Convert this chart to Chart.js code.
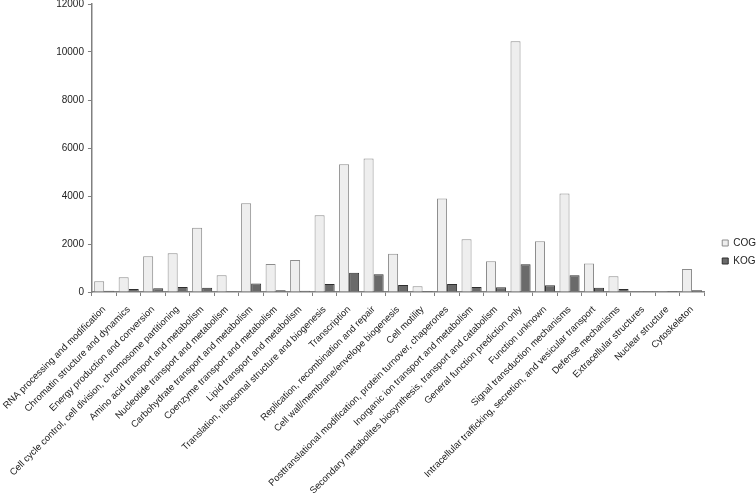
<!DOCTYPE html>
<html>
<head>
<meta charset="utf-8">
<script src="https://cdn.jsdelivr.net/npm/chart.js@4/dist/chart.umd.min.js"></script>
<style>
html,body{margin:0;padding:0;background:#fff;overflow:hidden;}
#wrap{width:756px;height:493px;position:relative;overflow:hidden;}
</style>
</head>
<body>
<div id="wrap"><canvas id="c" width="756" height="493"></canvas></div>
<script>
const categories = [
  "RNA processing and modification",
  "Chromatin structure and dynamics",
  "Energy production and conversion",
  "Cell cycle control, cell division, chromosome partitioning",
  "Amino acid transport and metabolism",
  "Nucleotide transport and metabolism",
  "Carbohydrate transport and metabolism",
  "Coenzyme transport and metabolism",
  "Lipid transport and metabolism",
  "Translation, ribosomal structure and biogenesis",
  "Transcription",
  "Replication, recombination and repair",
  "Cell wall/membrane/envelope biogenesis",
  "Cell motility",
  "Posttranslational modification, protein turnover, chaperones",
  "Inorganic ion transport and metabolism",
  "Secondary metabolites biosynthesis, transport and catabolism",
  "General function prediction only",
  "Function unknown",
  "Signal transduction mechanisms",
  "Intracellular trafficking, secretion, and vesicular transport",
  "Defense mechanisms",
  "Extracellular structures",
  "Nuclear structure",
  "Cytoskeleton"
];
const cogValues = [450, 610, 1490, 1610, 2680, 700, 3700, 1170, 1330, 3200, 5320, 5560, 1590, 240, 3900, 2200, 1280, 10450, 2110, 4100, 1190, 660, 15, 8, 960];
const kogValues = [50, 130, 155, 210, 180, 30, 350, 70, 55, 330, 800, 735, 290, 40, 330, 210, 195, 1160, 280, 695, 180, 125, 6, 4, 70];
const yTicks = [0, 2000, 4000, 6000, 8000, 10000, 12000];

const FONT = "'Liberation Sans', Arial, Helvetica, sans-serif";

const legendPlace = {
  id: 'legendPlace',
  afterLayout(chart) {
    const lg = chart.legend;
    if (!lg) return;
    const h = lg.bottom - lg.top;
    lg.top = 230; lg.bottom = 230 + h;
    lg.left += 10; lg.right += 10;
    if (lg.adjustHitBoxes) lg.adjustHitBoxes();
  }
};

new Chart(document.getElementById('c'), {
  type: 'bar',
  data: {
    labels: categories,
    datasets: [
      { label: 'COG', data: cogValues, backgroundColor: '#eeeeee', borderColor: '#8c8c8c', borderWidth: 1, categoryPercentage: 0.82, barPercentage: 1.0 },
      { label: 'KOG', data: kogValues, backgroundColor: '#6a6a6a', borderColor: '#2e2e2e', borderWidth: 1, categoryPercentage: 0.82, barPercentage: 1.0 }
    ]
  },
  plugins: [legendPlace],
  options: {
    responsive: false,
    animation: false,
    devicePixelRatio: 1,
    layout: { padding: { top: 0, right: 0, bottom: 0, left: 0 } },
    plugins: {
      tooltip: { enabled: false },
      legend: {
        position: 'right',
        align: 'start',
        labels: {
          boxWidth: 6, boxHeight: 6, padding: 8,
          color: '#222',
          font: { family: FONT, size: 10 }
        }
      }
    },
    scales: {
      x: {
        afterFit: (scale) => {
          scale.height = 201;
          scale.paddingLeft = Math.max(0, scale.paddingLeft - 4);
        },
        grid: { display: true, drawOnChartArea: false, drawTicks: true, tickLength: 4, color: '#808080', offset: true },
        border: { display: true, color: '#808080', width: 1.5 },
        ticks: {
          autoSkip: false, maxRotation: 45, minRotation: 45,
          color: '#222', padding: 8,
          font: { family: FONT, size: 9.5 }
        }
      },
      y: {
        min: 0, max: 12000,
        afterFit: (scale) => { scale.paddingTop = 4; },
        afterBuildTicks: (axis) => { axis.ticks = yTicks.map(v => ({ value: v })); },
        grid: { display: true, drawOnChartArea: false, drawTicks: true, tickLength: 4, color: '#808080' },
        border: { display: true, color: '#808080', width: 1.5 },
        ticks: { color: '#222', padding: 4, font: { family: FONT, size: 10, lineHeight: 0.4 }, callback: (v) => String(v) }
      }
    }
  }
});
</script>
</body>
</html>
